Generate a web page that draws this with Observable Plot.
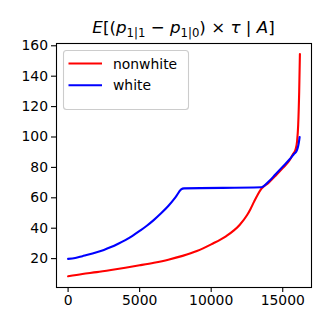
<!DOCTYPE html>
<html>
<head>
<meta charset="utf-8">
<script src="https://cdn.jsdelivr.net/npm/d3@7"></script>
<script src="https://cdn.jsdelivr.net/npm/@observablehq/plot@0.6"></script>
<style>
html,body{margin:0;padding:0;background:#fff;}
#chart{width:329px;height:329px;}
</style>
</head>
<body>
<div id="chart"></div>
<script>
// Series names
const seriesNames = ["nonwhite", "white"];
const seriesColors = ["red", "blue"];

// nonwhite series
const nonwhiteX = [0, 1000, 2000, 3000, 4000, 5000, 6000, 7000, 8000, 9000, 10000, 11000, 12000, 12500, 12750, 13000, 13250, 13500, 14000, 14500, 15000, 15500, 15700, 15900, 16000, 16080, 16150, 16200];
const nonwhiteY = [8.4, 9.9, 11.1, 12.5, 14.0, 15.6, 17.3, 19.3, 21.8, 25.0, 29.4, 34.5, 42.3, 48.5, 52.7, 57.5, 62.0, 65.8, 69.8, 74.5, 79.5, 85.0, 88.5, 92.0, 97.0, 108.0, 130.0, 154.6];

// white series
const whiteX = [0, 500, 1000, 1500, 2000, 2500, 3000, 3500, 4000, 4500, 5000, 5500, 6000, 6500, 7000, 7500, 7900, 8100, 13500, 14000, 14500, 15000, 15500, 15800, 15950, 16050, 16120, 16180];
const whiteY = [19.8, 20.4, 21.6, 22.8, 24.2, 25.7, 27.6, 29.8, 32.2, 35.0, 38.2, 41.6, 45.5, 49.8, 54.6, 60.3, 65.5, 66.2, 66.9, 70.5, 75.5, 80.5, 85.5, 89.0, 90.5, 93.0, 96.0, 100.0];

// Tick values
const xTicks = [0, 5000, 10000, 15000];
const yTicks = [20, 40, 60, 80, 100, 120, 140, 160];

const nonwhite = nonwhiteX.map((x, i) => ({x, y: nonwhiteY[i], s: seriesNames[0]}));
const white = whiteX.map((x, i) => ({x, y: whiteY[i], s: seriesNames[1]}));

const font = "DejaVu Sans, Liberation Sans, sans-serif";

const plot = Plot.plot({
  width: 329,
  height: 329,
  marginLeft: 56,
  marginRight: 18,
  marginTop: 43,
  marginBottom: 42,
  style: {fontFamily: font, fontSize: "13.9px", color: "black", background: "white"},
  x: {domain: [-810, 17010]},
  y: {domain: [1.0, 161.5]},
  color: {type: "ordinal", domain: seriesNames, range: seriesColors},
  marks: [
    Plot.line(nonwhite, {x: "x", y: "y", stroke: {value: "s", scale: "color"}, strokeWidth: 2.1, curve: "monotone-x"}),
    Plot.line(white, {x: "x", y: "y", stroke: {value: "s", scale: "color"}, strokeWidth: 2.1, curve: "monotone-x"}),
    Plot.frame({stroke: "black", strokeWidth: 1.1}),
    Plot.axisX({ticks: xTicks, tickFormat: d => String(d), tickSize: 5, tickPadding: 3, strokeWidth: 1.1, label: null}),
    Plot.axisY({ticks: yTicks, tickFormat: d => String(d), tickSize: 5, tickPadding: 3.5, strokeWidth: 1.1, label: null})
  ]
});

document.getElementById("chart").appendChild(plot);

const svg = d3.select(plot);

// Title (mathtext-like)
const title = svg.append("text")
  .attr("x", 183.5).attr("y", 33)
  .attr("text-anchor", "middle")
  .attr("font-family", font)
  .attr("font-size", "16.7px")
  .attr("fill", "black")
  .style("white-space", "pre");
const parts = [
  {t: "E", it: true},
  {t: "[("},
  {t: "p", it: true},
  {t: "1|1", sub: true},
  {t: " − "},
  {t: "p", it: true},
  {t: "1|0", sub: true},
  {t: ") × "},
  {t: "τ", it: true},
  {t: " | "},
  {t: "A", it: true},
  {t: "]"}
];
let shifted = false;
parts.forEach(p => {
  const ts = title.append("tspan").text(p.t);
  if (p.it) ts.attr("font-style", "italic");
  if (p.sub) { ts.attr("font-size", "11.7px").attr("dy", 3.5); shifted = true; }
  else if (shifted) { ts.attr("dy", -3.5); shifted = false; }
});

// Legend
const lg = svg.append("g").attr("text-anchor", "start");
lg.append("rect")
  .attr("x", 63.5).attr("y", 50.5).attr("width", 125).attr("height", 59)
  .attr("rx", 3).attr("fill", "white").attr("fill-opacity", 0.8)
  .attr("stroke", "#cccccc").attr("stroke-width", 1.1);
seriesNames.forEach((name, i) => {
  const yy = 63.5 + i * 21.7;
  lg.append("line").attr("x1", 68.5).attr("x2", 102).attr("y1", yy).attr("y2", yy)
    .attr("stroke", seriesColors[i]).attr("stroke-width", 2.1);
  lg.append("text").attr("x", 113).attr("y", yy + 5)
    .attr("text-anchor", "start")
    .attr("font-family", font).attr("font-size", "13.9px").attr("fill", "black")
    .text(name);
});
</script>
</body>
</html>
